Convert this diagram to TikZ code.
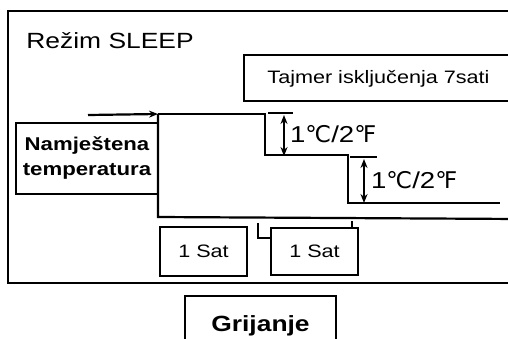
\documentclass[tikz,border=0pt]{standalone}
\usepackage{fontspec}
\setmainfont{Liberation Sans}[FakeStretch=1.2]
\newfontfamily\degfont{DejaVu Sans}
\usetikzlibrary{arrows.meta, positioning}
\newcommand*{\degstep}{1{\degfont ℃}/2{\degfont ℉}}

\begin{document}
\begin{tikzpicture}[x=1pt,y=-1pt,line width=2.2pt,>={Stealth[length=9pt,width=7pt]},
      box/.style={draw,rectangle,inner sep=0pt},
      every node/.style={font=\fontsize{18}{22}\selectfont}]
      \useasboundingbox (0,0) rectangle (508,338);
      \draw (8,11) rectangle (520,283);
      \node[anchor=base west,font=\fontsize{22}{22}\selectfont] (title) at (22,48) {Režim SLEEP};
      \node[box,anchor=north west,minimum width=277pt,minimum height=46pt] (timer) at (243,54) {};
      \node[anchor=base west] (timer_text) at (263,83) {Tajmer isključenja 7sati};
      \node[box,minimum width=142pt,minimum height=71pt,align=center,
            font=\bfseries\fontsize{18.5}{25}\selectfont] (set_temp) at (87,158.5) {Namještena\\temperatura};
      \node[box,minimum width=87pt,minimum height=49pt] (hour_1) at (203.5,251.5) {1 Sat};
      \node[box,minimum width=87pt,minimum height=47pt] (hour_2) at (314.5,251.5) {1 Sat};
      \node[box,anchor=north,minimum width=151pt,minimum height=60pt,
            font=\bfseries\fontsize{22}{22}\selectfont] (mode) at (260.5,295) {Grijanje};
      % temperature steps
      \coordinate (in) at (88,115);
      \coordinate (s_0) at (158,114);
      \coordinate (s_1) at (265,114);
      \coordinate (s_2) at (265,155);
      \coordinate (s_3) at (348,155);
      \coordinate (s_4) at (348,203);
      \coordinate (s_5) at (500,203);
      \coordinate (b_0) at (158,217);
      \coordinate (b_1) at (520,219);
      \draw[->] (in) -- (s_0);
      \draw (s_0) -- (s_1) -- (s_2) -- (s_3) -- (s_4) -- (s_5);
      \draw (s_0) -- (b_0) -- (b_1);
      % step sizes
      \draw (268,113) -- (293,113);
      \draw[<->] (284,115) -- (284,156);
      \node[anchor=west,inner sep=0pt,font=\fontsize{23}{23}\selectfont] (step_1) at (289,134) {\degstep};
      \draw (350,157) -- (377,157);
      \draw[<->] (364,159) -- (364,203);
      \node[anchor=west,inner sep=0pt,font=\fontsize{23}{23}\selectfont] (step_2) at (370,180) {\degstep};
      % hour marks
      \draw (258,223) -- (258,239) (258,238) -- (hour_2.west |- 0,238);
      \draw (352,221) -- (352,227);
    \end{tikzpicture}
\end{document}
